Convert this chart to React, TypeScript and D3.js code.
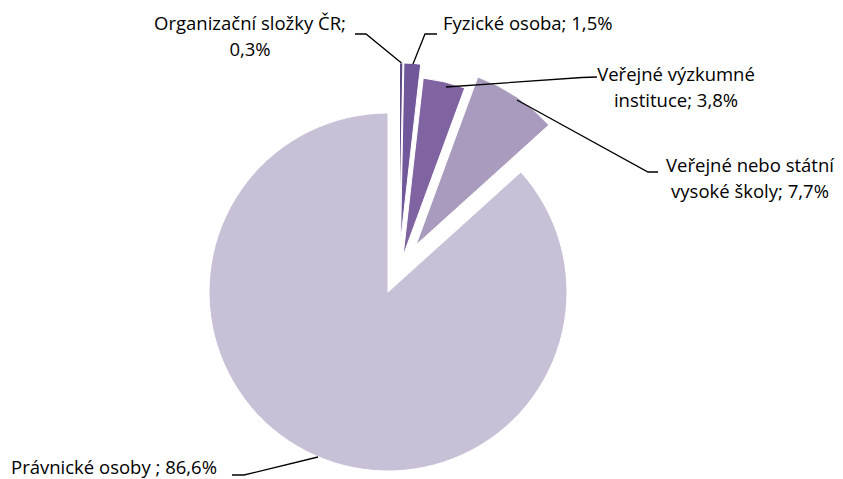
import React from "react";
import * as d3 from "d3";

const categories = [
  "Organizační složky ČR",
  "Fyzické osoba",
  "Veřejné výzkumné instituce",
  "Veřejné nebo státní vysoké školy",
  "Právnické osoby ",
];
const values = [0.3, 1.5, 3.8, 7.7, 86.6];
const labelLines = [
  ["Organizační složky ČR;", "0,3%"],
  ["Fyzické osoba; 1,5%"],
  ["Veřejné výzkumné", "instituce; 3,8%"],
  ["Veřejné nebo státní", "vysoké školy; 7,7%"],
  ["Právnické osoby ; 86,6%"],
];

const colors = ["#5f4b86", "#70589a", "#8063a1", "#a99bbd", "#c8c0d7"];
// per-slice explosion offsets (layout)
const offsets: [number, number][] = [
  [11.5, -50],
  [12.5, -50],
  [15, -36],
  [28, -47],
  [0, 0],
];
// label layout: anchor x, first baseline y, text-anchor
const labelPos: { x: number; y: number; anchor: string }[] = [
  { x: 250, y: 30, anchor: "middle" },
  { x: 443, y: 30, anchor: "start" },
  { x: 676, y: 81, anchor: "middle" },
  { x: 750, y: 172, anchor: "middle" },
  { x: 11, y: 474, anchor: "start" },
];
// leader polylines: from label end to slice
const leaders: [number, number][][] = [
  [[355, 34], [366, 34], [401.5, 63]],
  [[437, 34], [425, 34], [413, 64]],
  [[597, 77], [582, 77.5], [446, 87]],
  [[658, 172], [648, 172], [517, 100]],
  [[232, 475], [244, 475], [318, 457]],
];

export default function App() {
  const cx = 388;
  const cy = 292;
  const r = 179;
  const pie = d3
    .pie<number>()
    .sort(null)
    .value((d) => d)
    .startAngle(0)
    .endAngle(2 * Math.PI);
  const arcs = pie(values);
  const arc = d3.arc<d3.PieArcDatum<number>>().innerRadius(0).outerRadius(r);
  const line = d3.line();
  return (
    <svg
      width={843}
      height={479}
      style={{ position: "absolute", left: 0, top: 0 }}
      fontFamily="'Open Sans', sans-serif"
    >
      <rect width={843} height={479} fill="#ffffff" />
      {arcs.map((a, i) => (
        <path
          key={categories[i]}
          d={arc(a) || ""}
          transform={`translate(${cx + offsets[i][0]},${cy + offsets[i][1]})`}
          fill={colors[i]}
          stroke="#ffffff"
          strokeWidth={1}
        />
      ))}
      {leaders.map((pts, i) => (
        <path key={"l" + i} d={line(pts) || ""} fill="none" stroke="#000" strokeWidth={1.3} />
      ))}
      {labelLines.map((lines, i) => (
        <text
          key={"t" + i}
          x={labelPos[i].x}
          y={labelPos[i].y}
          textAnchor={labelPos[i].anchor}
          fontSize={18.5}
          fill="#000"
        >
          {lines.map((ln, j) => (
            <tspan key={j} x={labelPos[i].x} dy={j === 0 ? 0 : 25.5}>
              {ln}
            </tspan>
          ))}
        </text>
      ))}
    </svg>
  );
}
